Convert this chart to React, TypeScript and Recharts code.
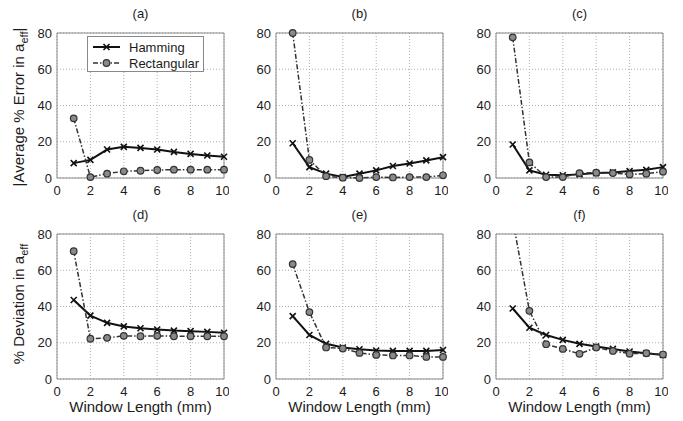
import React from 'react';
import { LineChart, Line, XAxis, YAxis, CartesianGrid, ReferenceArea } from 'recharts';

// Window lengths (mm) shared by every panel
const windowLengths = [1, 2, 3, 4, 5, 6, 7, 8, 9, 10];

// Top row: |average % error in a_eff|
const hammingA = [8.2, 10, 15.7, 17.2, 16.6, 15.7, 14.4, 13.3, 12.4, 11.7];
const rectangularA = [32.9, 0.5, 2.4, 3.7, 4.0, 4.4, 4.6, 4.6, 4.6, 4.6];
const hammingB = [19.2, 6, 2.4, 0.5, 2.4, 4.2, 6.6, 8, 9.7, 11.5];
const rectangularB = [80, 10, 1, 0.2, 0, 0.5, 0.3, 0.5, 0.5, 1.5];
const hammingC = [18.5, 4.2, 1.8, 1.5, 2, 2.7, 3.1, 3.8, 4.5, 6];
const rectangularC = [77.6, 8.6, 0.5, 0.5, 2.7, 2.9, 2.7, 2, 2.4, 3.5];

// Bottom row: % deviation in a_eff
const hammingD = [43.6, 35, 31, 29, 28, 27.3, 26.7, 26.4, 26, 25.5];
const rectangularD = [70.5, 22.2, 22.7, 23.8, 23.6, 23.8, 23.6, 23.6, 23.6, 23.6];
const hammingE = [34.7, 24.3, 19.4, 17.4, 16.4, 15.7, 15.5, 15.5, 15.5, 16];
const rectangularE = [63.4, 36.9, 17.4, 16.8, 14.4, 13.3, 13, 13, 12.2, 12.2];
const hammingF = [38.9, 28.3, 24.3, 21.6, 19.4, 17.9, 16.6, 15.2, 14.2, 13.3];
const rectangularF = [88, 37.6, 19.2, 16.6, 13.9, 17.4, 15.5, 14, 14.2, 13.5];

const xTicks = [0, 2, 4, 6, 8, 10];
const yTicks = [0, 20, 40, 60, 80];
const Y_MAX = 80;

const FONT = '"Liberation Sans", Arial, Helvetica, sans-serif';
const TEXT = '#1c1c1c';

const PLOT_W = 167;
const PLOT_H = 145;
const Y_AXIS_W = 35;
const TOP_M = 33;
const X_AXIS_H = 22;
const CHART_W = Y_AXIS_W + PLOT_W + 5;
const CHART_H = TOP_M + PLOT_H + X_AXIS_H;

const CrossDot = (props: any) => {
  const { cx, cy, index } = props;
  if (cx == null || cy == null) return <g key={`x-${index}`} />;
  const s = 3;
  return (
    <path
      key={`x-${index}`}
      d={`M${cx - s},${cy - s}L${cx + s},${cy + s}M${cx - s},${cy + s}L${cx + s},${cy - s}`}
      stroke="#111"
      strokeWidth={1.6}
      fill="none"
    />
  );
};

type PanelProps = {
  plotLeft: number;
  top: number;
  hamming: number[];
  rectangular: number[];
};

function Panel({ plotLeft, top, hamming, rectangular }: PanelProps) {
  const data = windowLengths.map((w, i) => ({ w, hamming: hamming[i], rectangular: rectangular[i] }));
  // only clip to the frame when a value runs past the top of the scale
  const overflow = Math.max(...hamming, ...rectangular) > Y_MAX;
  return (
    <div style={{ position: 'absolute', left: plotLeft - Y_AXIS_W, top, width: CHART_W, height: CHART_H }}>
      <LineChart width={CHART_W} height={CHART_H} data={data} margin={{ top: TOP_M, right: 5, left: 0, bottom: 0 }}>
        <CartesianGrid stroke="#b0b0b0" strokeDasharray="1 2" strokeWidth={1} />
        <XAxis
          dataKey="w"
          type="number"
          domain={[0, 10]}
          ticks={xTicks}
          axisLine={false}
          tickLine={false}
          tickSize={6}
          tickMargin={2}
          height={X_AXIS_H}
          tick={{ fill: TEXT, fontSize: 13, fontFamily: FONT }}
        />
        <YAxis
          type="number"
          domain={[0, Y_MAX]}
          ticks={yTicks}
          allowDataOverflow={overflow}
          axisLine={false}
          tickLine={false}
          tickSize={3}
          tickMargin={2}
          width={Y_AXIS_W}
          tick={{ fill: TEXT, fontSize: 13, fontFamily: FONT }}
        />
        <ReferenceArea x1={0} x2={10} y1={0} y2={Y_MAX} fill="none" fillOpacity={0} stroke="#8a8a8a" strokeWidth={1} />
        <Line
          dataKey="hamming"
          stroke="#111"
          strokeWidth={2}
          dot={CrossDot}
          activeDot={false}
          isAnimationActive={false}
        />
        <Line
          dataKey="rectangular"
          stroke="#333"
          strokeWidth={1.5}
          strokeDasharray="5 2 1.5 2"
          dot={{ r: 3.3, fill: '#8a8a8a', stroke: '#333', strokeWidth: 1.2, strokeDasharray: '', clipDot: false }}
          activeDot={false}
          isAnimationActive={false}
        />
      </LineChart>
    </div>
  );
}

const plotLefts = [57, 276, 496];
const rowTops = [0, 201];
const panelTitles = ['(a)', '(b)', '(c)', '(d)', '(e)', '(f)'];
const hammingSeries = [hammingA, hammingB, hammingC, hammingD, hammingE, hammingF];
const rectangularSeries = [rectangularA, rectangularB, rectangularC, rectangularD, rectangularE, rectangularF];

const textBase: React.CSSProperties = {
  position: 'absolute',
  fontFamily: FONT,
  color: TEXT,
  textAlign: 'center',
  whiteSpace: 'nowrap',
};

function Legend() {
  return (
    <svg style={{ position: 'absolute', left: 87, top: 36 }} width={117} height={36}>
      <rect x={0.5} y={0.5} width={116} height={35} fill="#fff" stroke="#8a8a8a" />
      <line x1={6} y1={11} x2={33} y2={11} stroke="#111" strokeWidth={2} />
      <CrossDot cx={19.5} cy={11} index={0} />
      <text x={42} y={15.5} fontSize={13} fontFamily={FONT} fill={TEXT}>Hamming</text>
      <line x1={6} y1={27} x2={33} y2={27} stroke="#333" strokeWidth={1.5} strokeDasharray="5 2 1.5 2" />
      <circle cx={19.5} cy={27} r={3.3} fill="#8a8a8a" stroke="#333" strokeWidth={1.2} />
      <text x={42} y={31.5} fontSize={13} fontFamily={FONT} fill={TEXT}>Rectangular</text>
    </svg>
  );
}

export default function App() {
  return (
    <div style={{ position: 'absolute', left: 0, top: 0, width: 683, height: 421, background: '#fff', overflow: 'hidden' }}>
      {panelTitles.map((title, i) => {
        const row = Math.floor(i / 3);
        const col = i % 3;
        const plotLeft = plotLefts[col];
        const top = rowTops[row];
        return (
          <React.Fragment key={title}>
            <Panel plotLeft={plotLeft} top={top} hamming={hammingSeries[i]} rectangular={rectangularSeries[i]} />
            <div style={{ ...textBase, left: plotLeft + PLOT_W / 2 - 30, top: top + 4, width: 60, height: 20, lineHeight: '20px', fontSize: 13 }}>
              {title}
            </div>
            {row === 1 && (
              <div style={{ ...textBase, left: plotLeft + PLOT_W / 2 - 100, top: 397, width: 200, height: 20, lineHeight: '20px', fontSize: 15 }}>
                Window Length (mm)
              </div>
            )}
          </React.Fragment>
        );
      })}
      <div style={{ ...textBase, left: 19 - 110, top: 107 - 10, width: 220, height: 20, lineHeight: '20px', fontSize: 15, transform: 'rotate(-90deg)' }}>
        |Average % Error in a<span style={{ fontSize: 11, verticalAlign: '-0.35em' }}>eff</span>|
      </div>
      <div style={{ ...textBase, left: 19 - 110, top: 304 - 10, width: 220, height: 20, lineHeight: '20px', fontSize: 15, transform: 'rotate(-90deg)' }}>
        % Deviation in a<span style={{ fontSize: 11, verticalAlign: '-0.35em' }}>eff</span>
      </div>
      <Legend />
    </div>
  );
}
